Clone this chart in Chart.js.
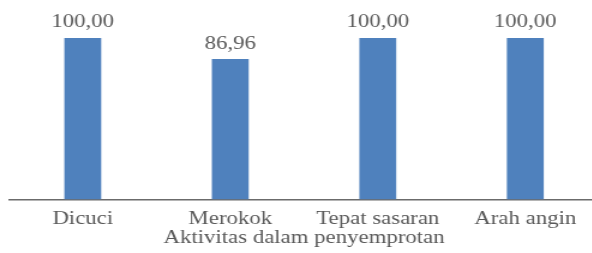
<!DOCTYPE html>
<html>
<head>
<meta charset="utf-8">
<script src="https://cdn.jsdelivr.net/npm/chart.js@4"></script>
<style>
  html, body { margin: 0; padding: 0; background: #fff; overflow: hidden; }
  /* the source picture is stretched sideways, so the whole chart is too */
  #wrap { width: 500px; height: 253px; transform: scaleX(1.2); transform-origin: 0 0; }
</style>
</head>
<body>
<div id="wrap"><canvas id="chart" width="500" height="253"></canvas></div>
<script>
const categories = ["Dicuci", "Merokok", "Tepat sasaran", "Arah angin"];
const values = [100.00, 86.96, 100.00, 100.00];
const axisTitle = "Aktivitas dalam penyemprotan";

const textColor = "#595959";
const barColor = "#4F81BD";

// draw the value above each bar, decimal comma like the original
const valueLabels = {
    id: "valueLabels",
    afterDatasetsDraw(chart) {
        const ctx = chart.ctx;
        const meta = chart.getDatasetMeta(0);
        ctx.save();
        ctx.font = "19px 'Liberation Serif', serif";
        ctx.fillStyle = textColor;
        ctx.textAlign = "center";
        ctx.textBaseline = "bottom";
        meta.data.forEach((bar, i) => {
            ctx.fillText(values[i].toFixed(2).replace(".", ","), bar.x, bar.y - 6);
        });
        ctx.restore();
    }
};

new Chart(document.getElementById("chart").getContext("2d"), {
    type: "bar",
    data: {
        labels: categories,
        datasets: [{
            data: values,
            backgroundColor: barColor,
            borderWidth: 0,
            barPercentage: 0.25,
            categoryPercentage: 1
        }]
    },
    options: {
        responsive: false,
        animation: false,
        devicePixelRatio: 1,
        layout: { padding: { left: 7.5, right: 0.8, top: 38, bottom: 5.5 } },
        plugins: {
            legend: { display: false },
            tooltip: { enabled: false }
        },
        scales: {
            x: {
                grid: { display: false, drawTicks: false },
                border: { display: true, color: "#6b6b6b", width: 1.5 },
                ticks: {
                    color: textColor,
                    padding: 10.5,
                    maxRotation: 0,
                    autoSkip: false,
                    font: { family: "'Liberation Serif', serif", size: 19, lineHeight: 1.0 }
                },
                title: {
                    display: true,
                    text: axisTitle,
                    color: textColor,
                    padding: { top: -11, bottom: 0 },
                    font: { family: "'Liberation Serif', serif", size: 19, lineHeight: 1.0 }
                }
            },
            y: {
                display: false,
                min: 0,
                max: 100
            }
        }
    },
    plugins: [valueLabels]
});
</script>
</body>
</html>
